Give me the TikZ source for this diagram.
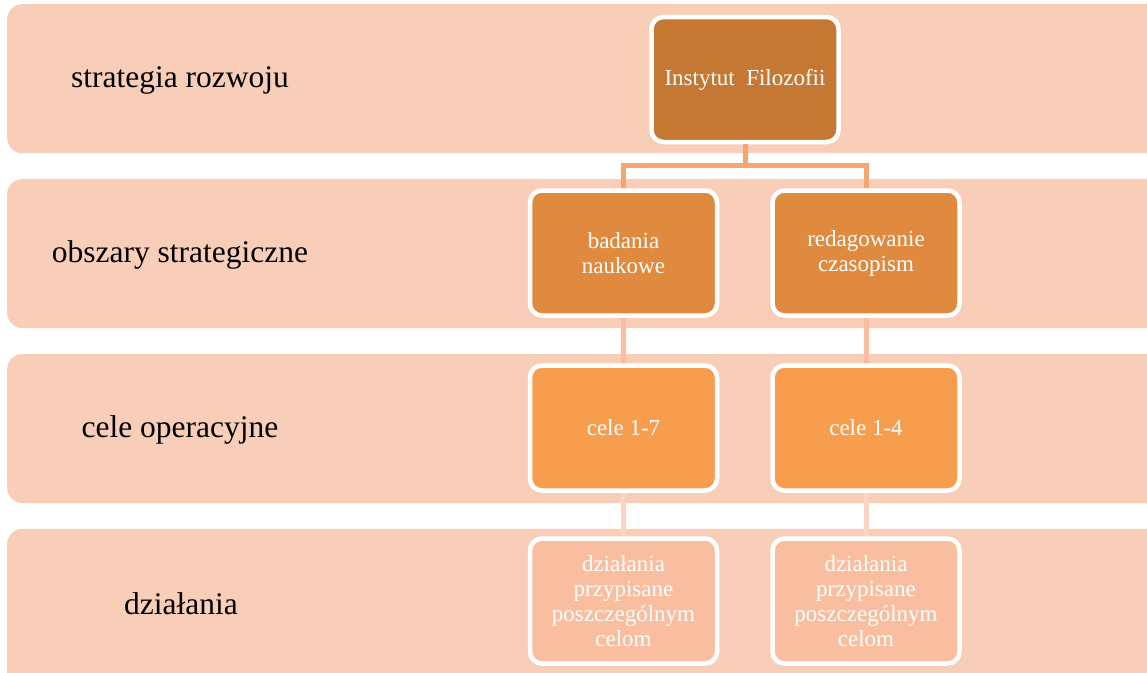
\documentclass[tikz,border=0pt]{standalone}
\usepackage{fontspec}
\setmainfont{Liberation Serif}
\usetikzlibrary{positioning}
\definecolor{bandfill}{RGB}{249,206,185}
\definecolor{topfill}{RGB}{196,120,52}
\definecolor{areafill}{RGB}{224,138,64}
\definecolor{goalfill}{RGB}{247,157,78}
\definecolor{taskfill}{RGB}{248,190,159}
\definecolor{linkone}{RGB}{245,165,110}
\definecolor{linktwo}{RGB}{249,190,160}
\definecolor{linkthree}{RGB}{250,213,194}
\tikzstyle{band} = [rectangle, rounded corners=15pt, minimum width=1180pt, minimum height=149pt, inner sep=0pt, fill=bandfill]
\tikzstyle{rowlabel} = [text=black, font=\fontsize{31.5}{36}\selectfont]
\tikzstyle{box} = [rectangle, rounded corners=12pt, minimum width=187pt, minimum height=125pt, text centered, align=center, draw=white, line width=4.5pt, text=white, font=\fontsize{23}{25}\selectfont]
\tikzstyle{link} = [line width=5pt]

\begin{document}
\begin{tikzpicture}[x=1pt, y=-1pt]
\useasboundingbox (0,0) rectangle (1147,672);
\clip (0,0) rectangle (1147,672);

% Bands
\node (band1) [band, anchor=north west] at (7,4) {};
\node (band2) [band, below=25.5pt of band1] {};
\node (band3) [band, below=25.5pt of band2] {};
\node (band4) [band, below=25.5pt of band3, minimum height=170pt] {};

% Row labels
\node (lab1) [rowlabel] at (180,80.5) {strategia rozwoju};
\node (lab2) [rowlabel] at (180,255) {obszary strategiczne};
\node (lab3) [rowlabel] at (180,429.5) {cele operacyjne};
\node (lab4) [rowlabel] at (181,604) {działania};

% Top
\node (inst) [box, fill=topfill] at (745,79.5) {Instytut\ \ Filozofii};

% Strategic areas
\node (area1) [box, fill=areafill] at (623.5,253) {badania\\naukowe};
\node (area2) [box, fill=areafill] at (866,253) {redagowanie\\czasopism};

% Operational goals
\node (goal1) [box, fill=goalfill] at (623.5,428) {cele 1-7};
\node (goal2) [box, fill=goalfill] at (866,428) {cele 1-4};

% Actions
\node (task1) [box, fill=taskfill] at (623.5,601) {działania\\przypisane\\poszczególnym\\celom};
\node (task2) [box, fill=taskfill] at (866,601) {działania\\przypisane\\poszczególnym\\celom};

% Connectors
\draw [link, draw=linkone] (inst.south) -- ++(0,21) -| (area1.north);
\draw [link, draw=linkone] (inst.south) -- ++(0,21) -| (area2.north);
\draw [link, draw=linktwo] (area1.south) -- (goal1.north);
\draw [link, draw=linktwo] (area2.south) -- (goal2.north);
\draw [link, draw=linkthree] (goal1.south) -- (task1.north);
\draw [link, draw=linkthree] (goal2.south) -- (task2.north);

\end{tikzpicture}
\end{document}
